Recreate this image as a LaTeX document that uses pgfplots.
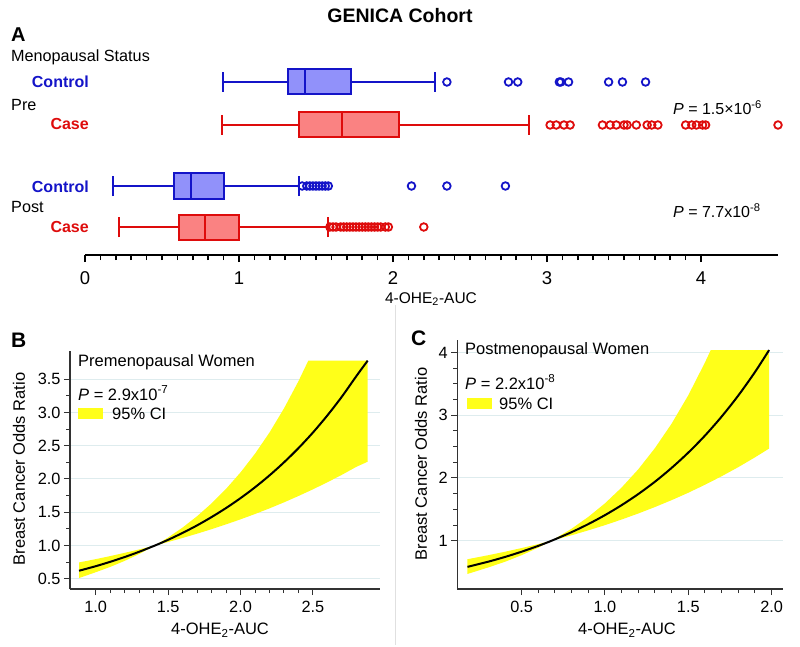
\documentclass[border=0pt]{standalone}
\usepackage{pgfplots}
\pgfplotsset{compat=1.18}
\usepgfplotslibrary{statistics}
\usepackage{fontspec}
\setmainfont{Liberation Sans}
\definecolor{cblue}{RGB}{20,20,200}
\definecolor{cbluefill}{RGB}{145,145,250}
\definecolor{cred}{RGB}{222,12,12}
\definecolor{credfill}{RGB}{250,130,130}
\definecolor{gridc}{RGB}{222,236,238}
\definecolor{band}{RGB}{255,255,25}
\definecolor{axc}{RGB}{50,50,50}
\newcommand{\fs}[1]{\fontsize{#1}{#1}\selectfont}
\begin{document}
\begin{tikzpicture}[x=1pt,y=1pt]
\useasboundingbox (0,0) rectangle (800,-647);
% ---------- Panel A texts ----------
\node[font=\fs{19.5}\bfseries] at (400,-16) {GENICA Cohort};
\node[anchor=west,inner sep=0,font=\fs{20}\bfseries] at (11,-35) {A};
\node[anchor=west,inner sep=0,font=\fs{16.2}] at (11,-57) {Menopausal Status};
\node[anchor=east,inner sep=0,font=\fs{16}\bfseries,text=cblue] at (89,-82) {Control};
\node[anchor=west,inner sep=0,font=\fs{16.2}] at (11,-105) {Pre};
\node[anchor=east,inner sep=0,font=\fs{16}\bfseries,text=cred] at (89,-124) {Case};
\node[anchor=east,inner sep=0,font=\fs{16}\bfseries,text=cblue] at (89,-187) {Control};
\node[anchor=west,inner sep=0,font=\fs{16.2}] at (11,-207) {Post};
\node[anchor=east,inner sep=0,font=\fs{16}\bfseries,text=cred] at (89,-227) {Case};
\node[anchor=west,inner sep=0,font=\fs{16}] at (673,-108) {\textit{P} = 1.5×10\textsuperscript{-6}};
\node[anchor=west,inner sep=0,font=\fs{16}] at (673,-211) {\textit{P} = 7.7x10\textsuperscript{-8}};
\node[font=\fs{15.5}] at (431,-299) {4-OHE\textsubscript{2}-AUC};
\begin{axis}[at={(85pt,-255pt)}, anchor=south west, scale only axis,
  width=693pt, height=200pt, xmin=0, xmax=4.5, ymin=0, ymax=200,
  axis x line=bottom, axis y line=none,
  axis line style={-, line width=2.2pt, black},
  xtick={0,1,2,3,4}, minor x tick num=9,
  tick align=outside, major tick length=7pt, minor tick length=5pt,
  every tick/.style={black, line width=1.6pt},
  xticklabel style={font=\fs{18.5}, yshift=-6pt},
  /pgf/number format/assume math mode=true,
  boxplot/draw direction=x, clip=false]
\addplot[draw=cblue, fill=cbluefill, line width=2pt,
  boxplot prepared={lower whisker=0.895, lower quartile=1.32, median=1.43,
  upper quartile=1.73, upper whisker=2.27, draw position=173, box extend=25, whisker extend=20}] coordinates {};
\addplot[draw=cred, fill=credfill, line width=2pt,
  boxplot prepared={lower whisker=0.89, lower quartile=1.39, median=1.67,
  upper quartile=2.04, upper whisker=2.88, draw position=130, box extend=25, whisker extend=20}] coordinates {};
\addplot[draw=cblue, fill=cbluefill, line width=2pt,
  boxplot prepared={lower whisker=0.18, lower quartile=0.576, median=0.69,
  upper quartile=0.90, upper whisker=1.39, draw position=69, box extend=25, whisker extend=20}] coordinates {};
\addplot[draw=cred, fill=credfill, line width=2pt,
  boxplot prepared={lower whisker=0.22, lower quartile=0.61, median=0.78,
  upper quartile=1.00, upper whisker=1.575, draw position=28, box extend=25, whisker extend=20}] coordinates {};
% outliers
\addplot[only marks, mark=o, mark size=3.8pt, cblue, line width=1.8pt] coordinates {
(2.35,173) (2.75,173) (2.81,173) (3.08,173) (3.09,173) (3.14,173) (3.40,173) (3.49,173) (3.64,173)};
\addplot[only marks, mark=o, mark size=3.8pt, cred, line width=1.8pt] coordinates {
(3.02,130) (3.06,130) (3.11,130) (3.15,130) (3.36,130) (3.41,130) (3.45,130) (3.50,130) (3.52,130)
(3.58,130) (3.65,130) (3.68,130) (3.72,130) (3.90,130) (3.94,130) (3.97,130) (4.01,130) (4.03,130) (4.50,130)};
\addplot[only marks, mark=o, mark size=3.8pt, cblue, line width=1.8pt] coordinates {
(1.41,69) (1.44,69) (1.46,69) (1.48,69) (1.50,69) (1.52,69) (1.54,69) (1.56,69) (1.58,69)
(2.12,69) (2.35,69) (2.73,69)};
\addplot[only marks, mark=o, mark size=3.8pt, cred, line width=1.8pt] coordinates {
(1.59,28) (1.61,28) (1.63,28) (1.66,28) (1.68,28) (1.70,28) (1.72,28) (1.74,28) (1.76,28) (1.78,28)
(1.80,28) (1.82,28) (1.84,28) (1.86,28) (1.88,28) (1.90,28) (1.92,28) (1.95,28) (1.97,28) (2.20,28)};
\end{axis}
% separator
\draw[black!12, line width=1pt] (395,-305) -- (395,-645);
% ---------- Panel B ----------
\node[anchor=west,inner sep=0,font=\fs{21}\bfseries] at (11,-340) {B};
\node[rotate=90,font=\fs{16.5}] at (19,-469) {Breast Cancer Odds Ratio};
\node[font=\fs{16.5}] at (220,-630) {4-OHE\textsubscript{2}-AUC};
\begin{axis}[at={(70pt,-589pt)}, anchor=south west, scale only axis,
  width=310pt, height=238pt, xmin=0.8225, xmax=2.963, ymin=0.345, ymax=3.925,
  axis x line=bottom, axis y line=left,
  axis line style={-, line width=1.2pt, axc},
  xtick={1.0,1.5,2.0,2.5}, minor x tick num=4,
  ytick={0.5,1.0,1.5,2.0,2.5,3.0,3.5}, minor y tick num=1,
  tick align=outside, major tick length=6pt, minor tick length=4pt,
  every tick/.style={axc, line width=1pt},
  ymajorgrids, major grid style={gridc, line width=1pt},
  tick label style={font=\fs{16.3}},
  xticklabel style={yshift=-3pt},
  /pgf/number format/.cd, fixed, fixed zerofill, precision=1, assume math mode=true]
\addplot[fill=band, draw=none] coordinates {
(0.885,0.745) (1.0,0.794) (1.1,0.840) (1.2,0.889) (1.3,0.940) (1.41,1.0) (1.5,1.120) (1.6,1.270)
(1.7,1.440) (1.8,1.633) (1.9,1.851) (2.0,2.099) (2.1,2.380) (2.2,2.699) (2.3,3.061) (2.4,3.471) (2.468,3.78) (2.878,3.78)
(2.878,2.26) (2.8,2.183) (2.7,2.063) (2.6,1.951) (2.5,1.844) (2.4,1.744) (2.3,1.648) (2.2,1.558)
(2.1,1.473) (2.0,1.393) (1.9,1.317) (1.8,1.245) (1.7,1.177) (1.6,1.113) (1.5,1.052) (1.41,1.0)
(1.3,0.871) (1.2,0.768) (1.1,0.677) (1.0,0.597) (0.885,0.51)} --cycle;
\addplot[black, line width=2pt, smooth] coordinates {
(0.885,0.620) (1.0,0.688) (1.1,0.754) (1.2,0.826) (1.3,0.905) (1.41,1.0) (1.5,1.085) (1.6,1.189)
(1.7,1.302) (1.8,1.427) (1.9,1.563) (2.0,1.712) (2.1,1.875) (2.2,2.054) (2.3,2.250) (2.4,2.464)
(2.5,2.699) (2.6,2.957) (2.7,3.239) (2.8,3.548) (2.878,3.78)};
\end{axis}
\node[anchor=west,inner sep=0,font=\fs{16.5}] at (78,-362) {Premenopausal Women};
\node[anchor=west,inner sep=0,font=\fs{16.5}] at (78,-393) {\textit{P} = 2.9x10\textsuperscript{-7}};
\fill[band] (78,-408) rectangle (103,-419);
\node[anchor=west,inner sep=0,font=\fs{16.5}] at (112,-413.5) {95\% CI};
% ---------- Panel C ----------
\node[anchor=west,inner sep=0,font=\fs{21}\bfseries] at (411,-338) {C};
\node[rotate=90,font=\fs{16.5}] at (421,-464) {Breast Cancer Odds Ratio};
\node[font=\fs{16.5}] at (627,-630) {4-OHE\textsubscript{2}-AUC};
\begin{axis}[at={(457.3pt,-589pt)}, anchor=south west, scale only axis,
  width=326pt, height=249pt, xmin=0.114, xmax=2.07, ymin=0.23, ymax=4.2,
  axis x line=bottom, axis y line=left,
  axis line style={-, line width=1.2pt, axc},
  xtick={0.5,1.0,1.5,2.0}, minor x tick num=4,
  ytick={1,2,3,4}, minor y tick num=3,
  tick align=outside, major tick length=6pt, minor tick length=4pt,
  every tick/.style={axc, line width=1pt},
  ymajorgrids, major grid style={gridc, line width=1pt},
  tick label style={font=\fs{16.3}},
  x tick label style={yshift=-3pt, /pgf/number format/.cd, fixed, fixed zerofill, precision=1},
  /pgf/number format/assume math mode=true]
\addplot[fill=band, draw=none] coordinates {
(0.175,0.705) (0.3,0.769) (0.4,0.824) (0.5,0.883) (0.6,0.946) (0.68,1.0) (0.8,1.192) (0.9,1.380)
(1.0,1.596) (1.1,1.848) (1.2,2.139) (1.3,2.477) (1.4,2.867) (1.5,3.319) (1.6,3.842) (1.635,4.04) (1.985,4.04)
(1.985,2.47) (1.9,2.329) (1.8,2.173) (1.7,2.028) (1.6,1.892) (1.5,1.765) (1.4,1.647) (1.3,1.537)
(1.2,1.434) (1.1,1.338) (1.0,1.248) (0.9,1.165) (0.8,1.087) (0.68,1.0) (0.6,0.89) (0.5,0.769)
(0.4,0.664) (0.3,0.574) (0.175,0.47)} --cycle;
\addplot[black, line width=2pt, smooth] coordinates {
(0.175,0.583) (0.3,0.666) (0.4,0.741) (0.5,0.825) (0.6,0.918) (0.68,1.0) (0.8,1.137) (0.9,1.265)
(1.0,1.408) (1.1,1.567) (1.2,1.744) (1.3,1.941) (1.4,2.161) (1.5,2.405) (1.6,2.676) (1.7,2.979)
(1.8,3.315) (1.9,3.689) (1.985,4.04)};
\end{axis}
\node[anchor=west,inner sep=0,font=\fs{16.5}] at (465,-350) {Postmenopausal Women};
\node[anchor=west,inner sep=0,font=\fs{16.5}] at (465,-382) {\textit{P} = 2.2x10\textsuperscript{-8}};
\fill[band] (467,-398) rectangle (492,-409);
\node[anchor=west,inner sep=0,font=\fs{16.5}] at (499,-403.5) {95\% CI};
\end{tikzpicture}
\end{document}
